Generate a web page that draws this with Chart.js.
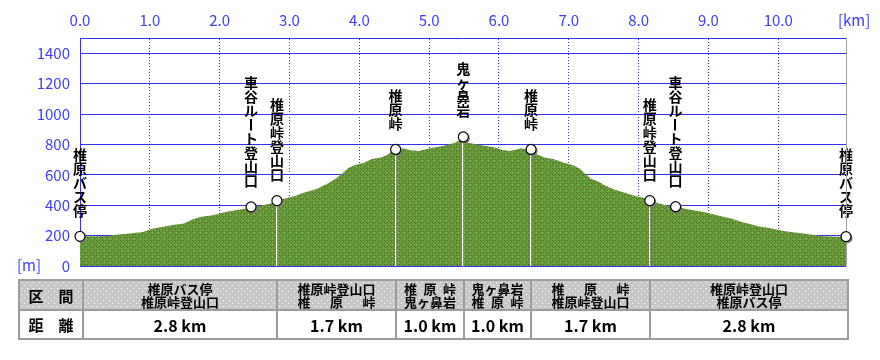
<!DOCTYPE html>
<html><head><meta charset="utf-8">
<script src="https://cdn.jsdelivr.net/npm/chart.js@4/dist/chart.umd.min.js"></script>
<style>
html,body{margin:0;padding:0;background:#fff;}
#wrap{position:relative;width:880px;height:360px;overflow:hidden;}
#c{position:absolute;left:0;top:0;}
#tbl{position:absolute;left:18px;top:279px;width:829px;border-collapse:collapse;table-layout:fixed;
  font-family:"Noto Sans CJK JP","Noto Sans CJK SC",sans-serif;font-weight:bold;color:#000;}
#tbl td{border:2px solid #9c9c9c;padding:0;text-align:center;vertical-align:middle;overflow:hidden;}
#tbl tr.h td{height:28px;font-size:13px;line-height:13px;}
#tbl tr.d td{height:27px;font-size:16px;line-height:16px;background:#fff;}
#tbl td.k{font-size:15px !important;line-height:15px !important;}
.two{display:inline-block;}
.two .ln{display:block;white-space:nowrap;}
.two .sp{display:flex;justify-content:space-between;}
</style>
</head><body>
<div id="wrap">
<canvas id="c" width="880" height="360"></canvas>
<table id="tbl"></table>
</div>
<script>
// ---- data ----
const profKm = [0.00,0.20,0.40,0.55,0.72,0.90,1.04,1.17,1.33,1.49,1.61,1.74,1.88,1.99,2.10,2.25,2.38,2.45,2.57,2.71,2.79,2.82,
  2.98,3.10,3.18,3.29,3.40,3.47,3.55,3.65,3.72,3.78,3.85,3.94,4.07,4.18,4.31,4.40,4.48,4.53,4.64,4.72,4.86,5.01,5.20,5.37,5.45,5.49,
  5.56,5.75,5.94,6.05,6.15,6.23,6.32,6.42,6.46,6.55,6.65,6.79,6.93,7.05,7.16,7.24,7.32,7.43,7.52,7.65,7.80,7.95,8.07,8.16,
  8.25,8.38,8.53,8.65,8.78,8.92,9.04,9.18,9.34,9.46,9.58,9.71,9.85,9.97,10.10,10.27,10.46,10.64,10.85,10.97];
const profElev = [195,195,198,207,214,223,245,256,269,280,306,324,333,344,357,368,379,387,394,410,420,430,
  449,464,478,493,508,526,543,570,596,618,647,664,680,704,713,730,756,767,774,761,756,774,789,811,833,840,
  811,794,779,763,756,763,774,767,765,734,713,702,680,664,640,603,574,555,530,504,482,460,449,432,
  416,401,390,379,366,357,344,328,311,291,278,262,252,240,229,219,207,196,192,192];

const wpNames = ['椎原バス停','車谷ルート登山口','椎原峠登山口','椎原峠','鬼ヶ鼻岩','椎原峠','椎原峠登山口','車谷ルート登山口','椎原バス停'];
const wpKm    = [0, 2.45, 2.82, 4.52, 5.49, 6.46, 8.16, 8.53, 10.97];
const wpElev  = [195, 389, 430, 767, 849, 767, 430, 390, 193];
const wpDrop  = [false,false,true,true,true,true,true,false,false];

const xMax = 10.97, xStep = 1;
const yMax = 1500, yStep = 200;

const sections = [['椎原バス停','椎原峠登山口'],['椎原峠登山口','椎 原 峠'],['椎 原 峠','鬼ヶ鼻岩'],
                  ['鬼ヶ鼻岩','椎 原 峠'],['椎 原 峠','椎原峠登山口'],['椎原峠登山口','椎原バス停']];
const distances = ['2.8 km','1.7 km','1.0 km','1.0 km','1.7 km','2.8 km'];
const colWidths = [64,194,119,68,67,119,198];

// ---- table ----
function dotTile(){
  const c=document.createElement('canvas');c.width=6;c.height=6;const g=c.getContext('2d');
  g.fillStyle='#c8c8c8';g.fillRect(0,0,6,6);g.fillStyle='#ffffff';g.fillRect(1,1,1,1);g.fillRect(4,4,1,1);
  return c.toDataURL();
}
(function(){
  const t=document.getElementById('tbl');
  let h='<colgroup>'+colWidths.map(w=>'<col style="width:'+w+'px">').join('')+'</colgroup>';
  const ln=s=>s.indexOf(' ')>=0
     ? '<span class="ln sp">'+s.split(' ').map(c=>'<span>'+c+'</span>').join('')+'</span>'
     : '<span class="ln">'+s+'</span>';
  h+='<tr class="h"><td class="k">区　間</td>'+sections.map(s=>'<td><span class="two">'+ln(s[0])+ln(s[1])+'</span></td>').join('')+'</tr>';
  h+='<tr class="d"><td class="k">距　離</td>'+distances.map(d=>'<td>'+d+'</td>').join('')+'</tr>';
  t.innerHTML=h;
  const bg='url('+dotTile()+')';
  t.querySelectorAll('tr.h td').forEach(td=>{td.style.backgroundImage=bg;});
})();

// ---- chart ----
const cv=document.getElementById('c');
const ctx=cv.getContext('2d');
function fillPattern(){
  const c=document.createElement('canvas');c.width=6;c.height=6;const g=c.getContext('2d');
  g.fillStyle='#6a9a3a';g.fillRect(0,0,6,6);
  g.fillStyle='#456f2a';
  [[0,0],[3,0],[0,3],[3,3],[1,1],[4,4]].forEach(p=>g.fillRect(p[0],p[1],1,1));
  g.fillStyle='#8ad05a';g.fillRect(2,4,1,1);
  return ctx.createPattern(c,'repeat');
}
const FONT='"Noto Sans CJK JP","Noto Sans CJK SC",sans-serif';
const BLUE_TXT='#3c3cff', BLUE_GRID='#3030ee';

const overlay={
  id:'overlay',
  beforeDatasetsDraw(chart){
    const c=chart.ctx, meta=chart.getDatasetMeta(1);
    c.save();
    c.fillStyle='#000';c.font='bold 14px '+FONT;c.textAlign='center';c.textBaseline='middle';
    meta.data.forEach((pt,i)=>{
      const chars=[...wpNames[i]], n=chars.length;
      chars.forEach((ch,j)=>{
        const cy=pt.y-26-(n-1-j)*14;
        if(ch==='ー'){c.save();c.translate(pt.x,cy);c.rotate(Math.PI/2);c.fillText(ch,0,0);c.restore();}
        else c.fillText(ch,pt.x,cy);
      });
    });
    c.restore();
  },
  afterDraw(chart){
    const c=chart.ctx, a=chart.chartArea, meta=chart.getDatasetMeta(1);
    c.save();
    c.strokeStyle='#a0a0a0';c.lineWidth=1;c.beginPath();c.moveTo(Math.round(a.right)+0.5,a.top);c.lineTo(Math.round(a.right)+0.5,a.bottom);c.stroke();
    meta.data.forEach((pt,i)=>{
      if(!wpDrop[i])return;
      const x=Math.round(pt.x);
      c.fillStyle='#ffffff';c.fillRect(x-1,pt.y,1,a.bottom-pt.y);
      c.fillStyle='#8c8c8c';c.fillRect(x,pt.y,1,a.bottom-pt.y);
    });
    meta.data.forEach(pt=>{
      c.fillStyle='#808080';c.beginPath();c.arc(pt.x+1.5,pt.y+1.5,5,0,Math.PI*2);c.fill();
      c.fillStyle='#fff';c.strokeStyle='#000';c.lineWidth=1.2;
      c.beginPath();c.arc(pt.x,pt.y,5,0,Math.PI*2);c.fill();c.stroke();
    });
    c.fillStyle=BLUE_TXT;c.font='15px '+FONT;c.textBaseline='middle';c.textAlign='left';
    c.fillText('[m]',17,a.bottom-1);
    c.fillText('[km]',838,20);
    c.restore();
  }
};

new Chart(ctx,{
  type:'line',
  data:{datasets:[
    {data:profKm.map((x,i)=>({x:x,y:profElev[i]})),fill:'origin',backgroundColor:fillPattern(),borderWidth:0,borderColor:'rgba(0,0,0,0)',pointRadius:0,tension:0},
    {data:wpKm.map((x,i)=>({x:x,y:wpElev[i]})),showLine:false,pointRadius:0,pointHoverRadius:0,fill:false}
  ]},
  options:{
    responsive:false,animation:false,events:[],
    layout:{padding:{left:0,right:34,top:0,bottom:94}},
    plugins:{legend:{display:false},tooltip:{enabled:false}},
    scales:{
      x:{type:'linear',position:'top',min:0,max:xMax,z:1,
        ticks:{stepSize:xStep,includeBounds:false,autoSkip:false,maxRotation:0,padding:9,color:BLUE_TXT,
               font:{family:FONT,size:15},callback:v=>Number(v).toFixed(1)},
        grid:{color:BLUE_GRID,lineWidth:1,drawTicks:false},
        border:{color:BLUE_GRID,width:1,dash:[1,2]},
        afterFit:s=>{s.height=38;}
      },
      y:{min:0,max:yMax,z:1,
        ticks:{stepSize:yStep,includeBounds:false,padding:10,color:BLUE_TXT,font:{family:FONT,size:15},
               callback:v=>String(v)},
        grid:{color:BLUE_GRID,lineWidth:1,drawTicks:false},
        border:{color:BLUE_GRID,width:1},
        afterFit:s=>{s.width=80;}
      }
    }
  },
  plugins:[overlay]
});
</script>
</body></html>
